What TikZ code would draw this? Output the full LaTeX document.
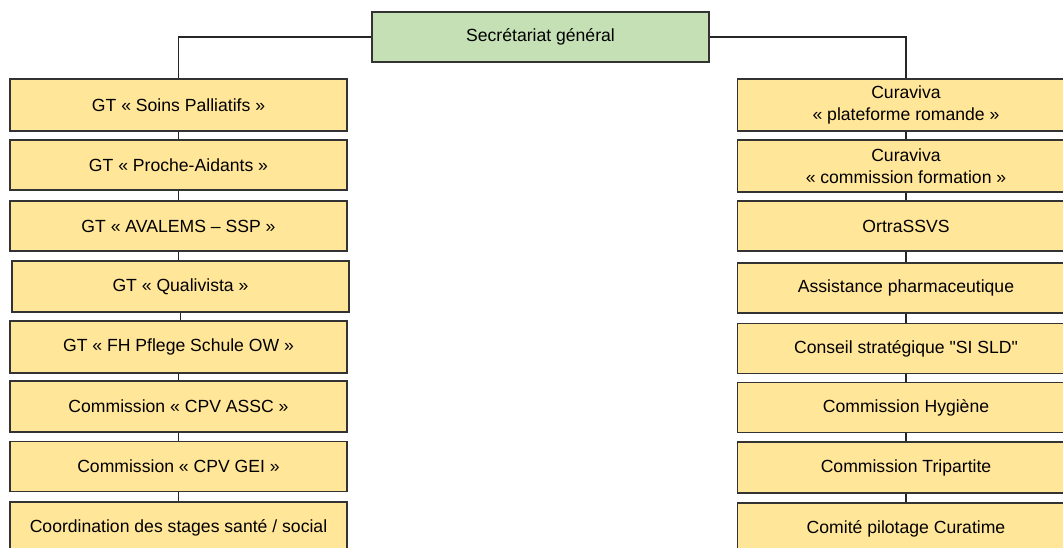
\documentclass[tikz,border=0pt]{standalone}
\usepackage{fontspec}
\setmainfont{Liberation Sans}[Ligatures=TeXOff]
\definecolor{boxfill}{HTML}{FFE699}
\definecolor{sgfill}{HTML}{C5E0B4}
\definecolor{edge}{HTML}{333333}
\begin{document}
\begin{tikzpicture}[x=0.75pt,y=-0.75pt,
  box/.style={draw=edge,line width=0.9pt,fill=boxfill,minimum width=252.75pt,minimum height=38.25pt,inner sep=0pt,align=center,font=\fontsize{13.2}{16.2}\selectfont},
  sgbox/.style={box,fill=sgfill,minimum width=252.75pt,minimum height=37.5pt},
  link/.style={draw=black!85,line width=0.9pt}]
\useasboundingbox (0,0) rectangle (1063,548);
\clip (0,0) rectangle (1063,548);
\node[sgbox] (sg) at (540.5,37) {Secrétariat général};
% left column
\node[box,minimum height=39pt] (l1) at (178.5,105) {GT « Soins Palliatifs »};
\node[box,minimum height=37.5pt] (l2) at (178.5,165) {GT « Proche-Aidants »};
\node[box,minimum height=37.5pt] (l3) at (178.5,226) {GT « AVALEMS – SSP »};
\node[box] (l4) at (180.5,286.5) {GT « Qualivista »};
\node[box,minimum height=39pt] (l5) at (178.5,347) {GT « FH Pflege Schule OW »};
\node[box] (l6) at (178.5,406.5) {Commission « CPV ASSC »};
\node[box,minimum height=37.5pt] (l7) at (178.5,466.5) {Commission « CPV GEI »};
\node[box] (l8) at (178.5,527.5) {Coordination des stages santé / social};
% right column
\node[box,minimum height=39pt] (r1) at (906,105) {Curaviva\\« plateforme romande »};
\node[box,minimum height=39pt] (r2) at (906,166) {Curaviva\\« commission formation »};
\node[box,minimum height=37.5pt] (r3) at (906,226) {OrtraSSVS};
\node[box,minimum height=37.5pt] (r4) at (906,288) {Assistance pharmaceutique};
\node[box,minimum height=37.5pt] (r5) at (906,348.5) {Conseil stratégique "SI SLD"};
\node[box,minimum height=37pt] (r6) at (906,407.5) {Commission Hygiène};
\node[box] (r7) at (906,467.5) {Commission Tripartite};
\node[box] (r8) at (906,528.5) {Comité pilotage Curatime};
% connectors
\draw[link] (sg.west) -| (l1.north);
\draw[link] (sg.east) -| (r1.north);
\foreach \a/\b in {l1/l2,l2/l3,l3/l4,l4/l5,l5/l6,l6/l7,l7/l8}{
  \draw[link] (\a.south) -- (\a.south |- \b.north);
}
\foreach \a/\b in {r1/r2,r2/r3,r3/r4,r4/r5,r5/r6,r6/r7,r7/r8}{
  \draw[link] (\a.south) -- (\a.south |- \b.north);
}
\end{tikzpicture}
\end{document}
